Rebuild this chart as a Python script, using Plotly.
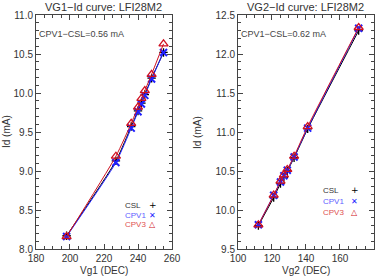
import plotly.graph_objects as go

# ---- data: left panel (Vg1 sweep) ----
vg1 = [198, 227, 236, 240, 242, 244, 248, 255]
vg1_csl = [8.17, 9.13, 9.57, 9.77, 9.87, 9.98, 10.19, 10.52]
vg1_cpv1 = [8.16, 9.11, 9.55, 9.76, 9.86, 9.97, 10.18, 10.52]
vg1_cpv3 = [8.16, 9.19, 9.61, 9.82, 9.93, 10.03, 10.24, 10.63]

# ---- data: right panel (Vg2 sweep) ----
vg2 = [112, 121, 125, 127, 129, 133, 141, 171]
vg2_csl = [9.80, 10.16, 10.34, 10.42, 10.50, 10.67, 11.04, 12.30]
vg2_cpv1 = [9.81, 10.19, 10.36, 10.44, 10.51, 10.68, 11.05, 12.33]
vg2_cpv3 = [9.81, 10.19, 10.37, 10.45, 10.52, 10.69, 11.07, 12.34]

titles = ["VG1\u2212Id curve: LFI28M2", "VG2\u2212Id curve: LFI28M2"]
xtitles = ["Vg1 (DEC)", "Vg2 (DEC)"]
ytitle = "Id (mA)"
notes = ["CPV1\u2212CSL=0.56 mA", "CPV1\u2212CSL=0.62 mA"]
series_names = ["CSL", "CPV1", "CPV3"]
series_colors = ["#000000", "#2020ff", "#d01020"]
text_colors = ["#333333", "#6060ff", "#e05050"]
legend_symbols = ["+", "\u2715", "\u25b3"]

FONT = "Liberation Sans, Arial, sans-serif"
fig = go.Figure()

panels = [
    (vg1, [vg1_csl, vg1_cpv1, vg1_cpv3], "x", "y"),
    (vg2, [vg2_csl, vg2_cpv1, vg2_cpv3], "x2", "y2"),
]
markers = [
    dict(symbol="cross-thin", size=6, line=dict(width=1.3, color=series_colors[0])),
    dict(symbol="x-thin", size=7, line=dict(width=2, color=series_colors[1])),
    dict(symbol="triangle-up-open", size=8, line=dict(width=1.3, color=series_colors[2])),
]
for xs, ys_list, xa, ya in panels:
    for i, ys in enumerate(ys_list):
        fig.add_trace(go.Scatter(
            x=xs, y=ys, xaxis=xa, yaxis=ya, mode="lines+markers",
            line=dict(color=series_colors[i], width=1, shape="spline", smoothing=0.6),
            marker=dict(color=series_colors[i], **markers[i]),
            showlegend=False, hoverinfo="skip"))

axcommon = dict(showline=True, linecolor="#444", linewidth=1, mirror="ticks",
                ticks="inside", ticklen=5, tickcolor="#444", showgrid=False,
                zeroline=False, automargin=False,
                tickfont=dict(family=FONT, size=10, color="#333"))
fig.update_layout(
    width=382, height=278, autosize=False,
    margin=dict(l=0, r=0, t=0, b=0),
    paper_bgcolor="white", plot_bgcolor="white",
    font=dict(family=FONT, size=10, color="#333"),
    xaxis=dict(domain=[0.0942, 0.4503], range=[180, 260], dtick=20, tick0=180,
               minor=dict(dtick=5, ticks="inside", ticklen=3, tickcolor="#444"),
               anchor="y", **axcommon),
    yaxis=dict(domain=[0.1043, 0.946], range=[8, 11], dtick=0.5, tick0=8, tickformat=".1f",
               minor=dict(dtick=0.1, ticks="inside", ticklen=3, tickcolor="#444"),
               anchor="x", **axcommon),
    xaxis2=dict(domain=[0.623, 0.979], range=[100, 180], dtick=20, tick0=100,
                minor=dict(dtick=5, ticks="inside", ticklen=3, tickcolor="#444"),
                anchor="y2", **axcommon),
    yaxis2=dict(domain=[0.1043, 0.946], range=[9.5, 12.5], dtick=0.5, tick0=9.5, tickformat=".1f",
                minor=dict(dtick=0.1, ticks="inside", ticklen=3, tickcolor="#444"),
                anchor="x2", **axcommon),
)

anns = []
ytitle_x = [6 / 382, 197 / 382]
for k, (xref, yref) in enumerate([("x domain", "y domain"), ("x2 domain", "y2 domain")]):
    anns.append(dict(text=titles[k], xref=xref, yref="paper", x=0.5, y=1.005,
                     xanchor="center", yanchor="top", showarrow=False,
                     font=dict(family=FONT, size=11, color="#333")))
    anns.append(dict(text=xtitles[k], xref=xref, yref="paper", x=0.5, y=0.0,
                     xanchor="center", yanchor="bottom", showarrow=False,
                     font=dict(family=FONT, size=10, color="#333")))
    anns.append(dict(text=ytitle, xref="paper", yref=yref, x=ytitle_x[k], y=0.5,
                     xanchor="center", yanchor="middle", textangle=-90, showarrow=False,
                     font=dict(family=FONT, size=10, color="#333")))
    anns.append(dict(text=notes[k], xref=xref, yref=yref, x=0.01, y=0.92,
                     xanchor="left", yanchor="middle", showarrow=False,
                     font=dict(family=FONT, size=9, color="#444")))
# in-plot legends
leg_pos = [(0.64, 0.86, [0.188, 0.145, 0.103]), (0.61, 0.86, [0.252, 0.205, 0.154])]
for k, (xref, yref) in enumerate([("x domain", "y domain"), ("x2 domain", "y2 domain")]):
    tx, sx, ys = leg_pos[k]
    for i in range(3):
        anns.append(dict(text=series_names[i], xref=xref, yref=yref, x=tx, y=ys[i],
                         xanchor="left", yanchor="middle", showarrow=False,
                         font=dict(family=FONT, size=8, color=text_colors[i])))
        anns.append(dict(text=legend_symbols[i], xref=xref, yref=yref, x=sx, y=ys[i],
                         xanchor="center", yanchor="middle", showarrow=False,
                         font=dict(family="DejaVu Sans", size=8 if i != 0 else 9,
                                   color=series_colors[i])))
fig.update_layout(annotations=anns)

fig.write_html("out.html", config={"displayModeBar": False, "staticPlot": True},
               post_script="document.body.style.margin='0';"
                           "document.body.style.overflow='hidden';"
                           "document.documentElement.style.overflow='hidden';")
